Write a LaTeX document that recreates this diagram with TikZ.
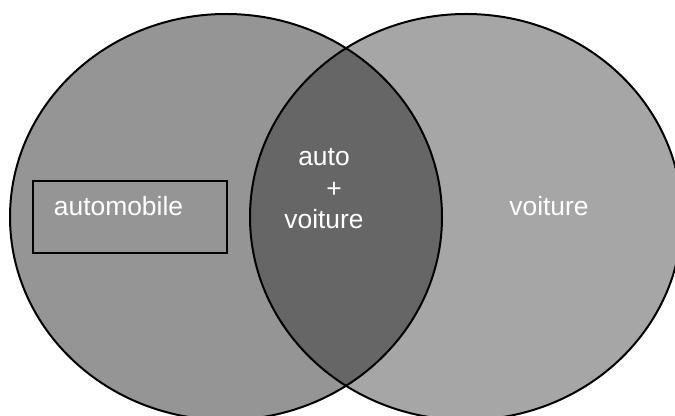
\documentclass[tikz,border=0pt]{standalone}
\usepackage{fontspec}
\setmainfont{Liberation Sans}

\definecolor{leftgray}{RGB}{149,149,149}
\definecolor{rightgray}{RGB}{166,166,166}
\definecolor{lensgray}{RGB}{102,102,102}
\tikzset{
  word/.style={text=white, inner sep=0pt, font=\fontsize{13.2}{15.75}\selectfont},
  wordbox/.style={draw, line width=0.75pt, minimum width=97pt, minimum height=36pt, inner sep=0pt}
}

\begin{document}
\begin{tikzpicture}[x=0.5pt,y=-0.5pt]
\useasboundingbox (0,0) rectangle (675,416);
\fill[leftgray] (226,217) ellipse (108pt and 101.5pt);
\fill[rightgray] (466,217) ellipse (108pt and 101.5pt);
\begin{scope}
\clip (226,217) ellipse (108pt and 101.5pt);
\fill[lensgray] (466,217) ellipse (108pt and 101.5pt);
\end{scope}
\draw[line width=1pt] (226,217) ellipse (108pt and 101.5pt);
\draw[line width=1pt] (466,217) ellipse (108pt and 101.5pt);
%\draw (0,217) -- (675,217);
\node[wordbox] (mobilbox) at (130,217) {};
\node[word, anchor=base] (mobil) at (118.5,216) {automobile};
\node[word, anchor=base, align=center] (both) at (324,229) {auto\\\hspace*{10pt}+\\voiture};
\node[word, anchor=base] (voit) at (549,216) {voiture};
\end{tikzpicture}
\end{document}
